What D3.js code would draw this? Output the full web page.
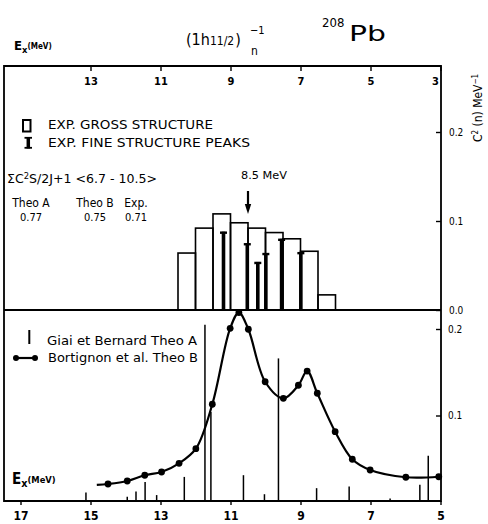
<!DOCTYPE html>
<html><head><meta charset="utf-8">
<script src="https://cdn.jsdelivr.net/npm/d3@7"></script>
<style>
body{margin:0;background:#fff}
svg{display:block}
text{font-family:"DejaVu Sans Condensed","DejaVu Sans","Liberation Sans",Arial,sans-serif;fill:#000}
</style>
</head><body>
<svg id="c" width="488" height="524"></svg>
<script>
// ---------- data ----------
const topTicks = [13, 11, 9, 7, 5, 3];
const botTicks = [17, 15, 13, 11, 9, 7, 5];
const topYTicks = [0.0, 0.1, 0.2];
const botYTicks = [0.1, 0.2];
// gross structure histogram: high-energy edge of each 0.5 MeV bin
const grossE = [10.5, 10.0, 9.5, 9.0, 8.5, 8.0, 7.5, 7.0, 6.5];
const grossV = [0.064, 0.092, 0.108, 0.098, 0.092, 0.087, 0.080, 0.066, 0.017];
// fine structure peaks
const fineE = [9.2, 8.52, 8.22, 7.99, 7.54, 6.99];
const fineV = [0.088, 0.075, 0.054, 0.064, 0.080, 0.065];
// Theo B (Bortignon et al.) curve; first point is the line start without marker
const theoBE = [14.82, 14.5, 13.95, 13.45, 12.97, 12.47, 11.99, 11.52, 11.01, 10.76, 10.49, 10.01, 9.49, 9.06, 8.81, 8.52, 8.01, 7.52, 7.01, 5.99, 5.05];
const theoBV = [0.0197, 0.0208, 0.0243, 0.0309, 0.0347, 0.0447, 0.0616, 0.113, 0.2008, 0.219, 0.1997, 0.139, 0.1199, 0.135, 0.1514, 0.1257, 0.0813, 0.0494, 0.037, 0.0286, 0.0292];
// Theo A (Giai et Bernard) sticks
const theoAE = [15.13, 13.95, 13.70, 13.44, 13.11, 12.32, 11.73, 11.56, 10.63, 10.03, 9.63, 8.54, 7.61, 6.44, 5.59, 5.35];
const theoAV = [0.011, 0.006, 0.012, 0.023, 0.008, 0.029, 0.205, 0.104, 0.031, 0.009, 0.166, 0.016, 0.018, 0.004, 0.020, 0.0535];
const arrowE = 8.5;
const sumLabels = ["Theo A", "Theo B", "Exp."];
const sumValues = ["0.77", "0.75", "0.71"];

// ---------- layout ----------
const L = 4, R = 441, T = 66, M = 310, B = 501;
const svg = d3.select("#c");
const xTop = d3.scaleLinear().domain([3, 15]).range([440.5, 20.5]);
const xBot = d3.scaleLinear().domain([5, 17]).range([440.5, 20.5]);
const yTop = d3.scaleLinear().domain([0, 0.2]).range([M, 132]);
const yBot = d3.scaleLinear().domain([0, 0.2]).range([502, 329]);

// frame
svg.append("path")
  .attr("d", `M${L},${T}H${R}V${B}H${L}Z M${L},${M}H${R}`)
  .attr("fill", "none").attr("stroke", "#000").attr("stroke-width", 1.8);

// top axis (ticks inward, labels inside)
const gT = svg.append("g").attr("transform", `translate(0,${T})`)
  .call(d3.axisBottom(xTop).tickValues(topTicks).tickSize(5).tickPadding(6).tickFormat(d3.format("d")));
gT.select(".domain").remove();
gT.selectAll("line").attr("stroke-width", 1.4);
gT.selectAll("text").attr("font-size", 11).attr("font-weight", "bold")
  .attr("font-family", "'Liberation Sans',Arial,sans-serif");
gT.selectAll("text").filter(d => d === 3).attr("text-anchor", "end").attr("dx", -2);

// right axes
const gRT = svg.append("g").attr("transform", `translate(${R},0)`)
  .call(d3.axisRight(yTop).tickValues(topYTicks).tickSize(-5).tickPadding(8).tickFormat(d3.format(".1f")));
gRT.select(".domain").remove();
const gRB = svg.append("g").attr("transform", `translate(${R},0)`)
  .call(d3.axisRight(yBot).tickValues(botYTicks).tickSize(-5).tickPadding(7).tickFormat(d3.format(".1f")));
gRB.select(".domain").remove();
[gRT, gRB].forEach(g => {
  g.selectAll("line").attr("stroke-width", 1.4);
  g.selectAll("text").attr("font-size", 10).attr("font-family", "'Liberation Sans',Arial,sans-serif");
});

// bottom axis
const gB = svg.append("g").attr("transform", `translate(0,${B})`)
  .call(d3.axisBottom(xBot).tickValues(botTicks).tickSize(4).tickPadding(6).tickFormat(d3.format("d")));
gB.select(".domain").remove();
gB.selectAll("line").attr("stroke-width", 1.4);
gB.selectAll("text").attr("font-size", 12).attr("font-weight", "bold")
  .attr("font-family", "'Liberation Sans',Arial,sans-serif");

// gross structure histogram
svg.append("g").selectAll("rect").data(grossE.map((e, i) => ({ e, v: grossV[i] }))).join("rect")
  .attr("x", d => xTop(d.e)).attr("width", d => xTop(d.e - 0.5) - xTop(d.e))
  .attr("y", d => yTop(d.v)).attr("height", d => yTop(0) - yTop(d.v))
  .attr("fill", "none").attr("stroke", "#000").attr("stroke-width", 1.6);

// fine structure peaks (I-beams)
const fine = svg.append("g").selectAll("g").data(fineE.map((e, i) => ({ e, v: fineV[i] }))).join("g");
fine.append("line").attr("x1", d => xTop(d.e)).attr("x2", d => xTop(d.e))
  .attr("y1", yTop(0)).attr("y2", d => yTop(d.v)).attr("stroke", "#000").attr("stroke-width", 3.6);
fine.append("line").attr("x1", d => xTop(d.e) - 3.5).attr("x2", d => xTop(d.e) + 3.5)
  .attr("y1", d => yTop(d.v) + 1).attr("y2", d => yTop(d.v) + 1).attr("stroke", "#000").attr("stroke-width", 2.4);

// 8.5 MeV arrow
const ax = xTop(arrowE);
svg.append("line").attr("x1", ax).attr("x2", ax).attr("y1", 191).attr("y2", 206)
  .attr("stroke", "#000").attr("stroke-width", 2.2);
svg.append("path").attr("d", `M${ax - 3.2},204L${ax + 3.2},204L${ax},214Z`).attr("fill", "#000");
svg.append("text").attr("x", 241).attr("y", 179).attr("font-size", 10)
  .attr("textLength", 46).attr("lengthAdjust", "spacingAndGlyphs").text("8.5 MeV");

// top-panel legend
svg.append("rect").attr("x", 23).attr("y", 120).attr("width", 7.5).attr("height", 11.5)
  .attr("fill", "none").attr("stroke", "#000").attr("stroke-width", 2);
svg.append("line").attr("x1", 28.3).attr("x2", 28.3).attr("y1", 137).attr("y2", 148.5).attr("stroke", "#000").attr("stroke-width", 3.5);
svg.append("line").attr("x1", 24.5).attr("x2", 32).attr("y1", 137.8).attr("y2", 137.8).attr("stroke", "#000").attr("stroke-width", 1.8);
svg.append("line").attr("x1", 24.5).attr("x2", 32).attr("y1", 147.8).attr("y2", 147.8).attr("stroke", "#000").attr("stroke-width", 1.8);
svg.append("text").attr("x", 48).attr("y", 128.5).attr("font-size", 13)
  .attr("textLength", 165).attr("lengthAdjust", "spacingAndGlyphs").text("EXP. GROSS STRUCTURE");
svg.append("text").attr("x", 48).attr("y", 147).attr("font-size", 13)
  .attr("textLength", 202).attr("lengthAdjust", "spacingAndGlyphs").text("EXP. FINE STRUCTURE PEAKS");

// sum rule text
const st = svg.append("text").attr("x", 7).attr("y", 183).attr("font-size", 12)
  .attr("textLength", 150).attr("lengthAdjust", "spacingAndGlyphs");
st.append("tspan").text("ΣC");
st.append("tspan").attr("font-size", 8).attr("dy", -4).text("2");
st.append("tspan").attr("dy", 4).text("S/2J+1 <6.7 - 10.5>");
const sumX = [31, 95, 136];
sumLabels.forEach((s, i) => {
  svg.append("text").attr("x", sumX[i]).attr("y", 207).attr("font-size", 12).attr("text-anchor", "middle").text(s);
  svg.append("text").attr("x", sumX[i]).attr("y", 221).attr("font-size", 11).attr("text-anchor", "middle").text(sumValues[i]);
});

// Theo A sticks
svg.append("g").selectAll("line").data(theoAE.map((e, i) => ({ e, v: theoAV[i] }))).join("line")
  .attr("x1", d => xBot(d.e)).attr("x2", d => xBot(d.e))
  .attr("y1", yBot(0)).attr("y2", d => yBot(d.v)).attr("stroke", "#000").attr("stroke-width", 1.5);

// Theo B curve
const pts = theoBE.map((e, i) => [xBot(e), yBot(theoBV[i])]);
svg.append("path").attr("d", d3.line().curve(d3.curveCatmullRom.alpha(0.5))(pts))
  .attr("fill", "none").attr("stroke", "#000").attr("stroke-width", 2.2);
svg.append("g").selectAll("circle").data(pts.slice(1)).join("circle")
  .attr("cx", d => d[0]).attr("cy", d => d[1]).attr("r", 3.4).attr("fill", "#000");

// bottom legend
svg.append("line").attr("x1", 29.3).attr("x2", 29.3).attr("y1", 330).attr("y2", 344).attr("stroke", "#000").attr("stroke-width", 2);
svg.append("line").attr("x1", 14).attr("x2", 37).attr("y1", 358).attr("y2", 358).attr("stroke", "#000").attr("stroke-width", 2.2);
svg.append("circle").attr("cx", 16).attr("cy", 358).attr("r", 3).attr("fill", "#000");
svg.append("circle").attr("cx", 35).attr("cy", 358).attr("r", 3).attr("fill", "#000");
svg.append("text").attr("x", 47).attr("y", 345).attr("font-size", 12)
  .attr("textLength", 150).attr("lengthAdjust", "spacingAndGlyphs").text("Giai et Bernard  Theo A");
svg.append("text").attr("x", 48).attr("y", 362).attr("font-size", 12)
  .attr("textLength", 150).attr("lengthAdjust", "spacingAndGlyphs").text("Bortignon et al. Theo B");

// Ex (MeV) labels
function exLabel(x, y, big) {
  const t = svg.append("text").attr("x", x).attr("y", y).attr("font-weight", "bold");
  t.append("tspan").attr("font-size", big).text("E");
  t.append("tspan").attr("font-size", big * 0.72).attr("dy", 3).text("x");
  t.append("tspan").attr("font-size", big * 0.62).attr("dy", -4).text("(MeV)");
}
exLabel(14, 50, 13);
exLabel(12, 484, 15);

// title
const tt = svg.append("text").attr("x", 186).attr("y", 45).attr("font-size", 16)
  .attr("font-family", "'Liberation Sans',Arial,sans-serif");
tt.append("tspan").text("(1h");
tt.append("tspan").attr("font-size", 12).text("11/2");
tt.append("tspan").attr("dx", 1).text(")");
svg.append("text").attr("x", 250).attr("y", 34).attr("font-size", 11)
  .attr("font-family", "'Liberation Sans',Arial,sans-serif").text("−1");
svg.append("text").attr("x", 251).attr("y", 55).attr("font-size", 12)
  .attr("font-family", "'Liberation Sans',Arial,sans-serif").text("n");
svg.append("text").attr("x", 322).attr("y", 27).attr("font-size", 13)
  .attr("font-family", "'Liberation Sans',Arial,sans-serif").text("208");
svg.append("text").attr("x", 349).attr("y", 41).attr("font-size", 22)
  .attr("textLength", 37).attr("lengthAdjust", "spacingAndGlyphs")
  .attr("font-family", "'Liberation Sans',Arial,sans-serif").text("Pb");

// right rotated axis title
const rt = svg.append("text").attr("transform", "translate(482,108) rotate(-90)")
  .attr("text-anchor", "middle").attr("font-size", 12)
  .attr("font-family", "'Liberation Sans',Arial,sans-serif");
rt.append("tspan").text("C");
rt.append("tspan").attr("font-size", 8).attr("dy", -4).text("2");
rt.append("tspan").attr("dy", 4).text(" (n) MeV");
rt.append("tspan").attr("font-size", 8).attr("dy", -4).text("−1");
</script>
</body></html>
